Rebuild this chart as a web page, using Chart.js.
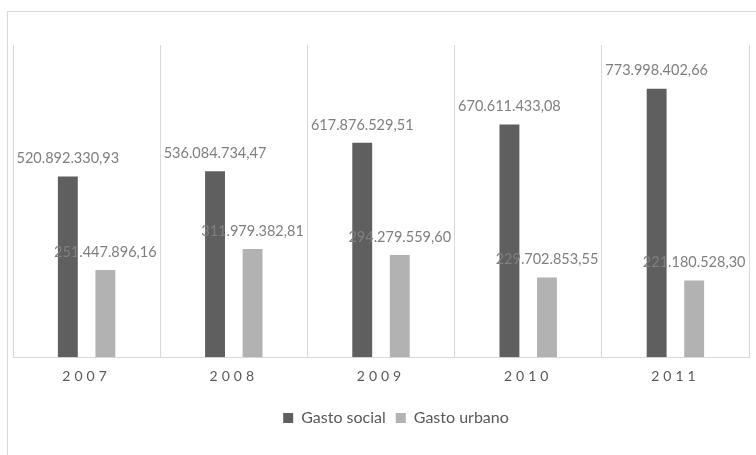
<!DOCTYPE html>
<html>
<head>
<meta charset="utf-8">
<script src="https://cdn.jsdelivr.net/npm/chart.js@4/dist/chart.umd.min.js"></script>
<style>
  html, body { margin: 0; padding: 0; width: 756px; height: 455px; overflow: hidden; background: #fff; }
  #wrap { position: absolute; left: 7px; top: 11px; width: 776px; height: 470px; border: 1px solid #d9d9d9; background: #fff; }
</style>
</head>
<body>
<div id="wrap"><canvas id="chartGasto"></canvas></div>
<script>
var years = ['2007', '2008', '2009', '2010', '2011'];
var gastoSocial = [520892330.93, 536084734.47, 617876529.51, 670611433.08, 773998402.66];
var gastoUrbano = [251447896.16, 311979382.81, 294279559.60, 229702853.55, 221180528.30];

var fontFamily = "Lato, 'Open Sans', sans-serif";

// 1234567.89 -> "1.234.567,89"
function formatEs(v) {
  var parts = v.toFixed(2).split('.');
  var ent = parts[0].replace(/\B(?=(\d{3})+(?!\d))/g, '.');
  return ent + ',' + parts[1];
}

// values written above each bar
var valueLabels = {
  id: 'valueLabels',
  afterDatasetsDraw: function(chart) {
    var ctx = chart.ctx;
    ctx.save();
    ctx.font = '14.5px ' + fontFamily;
    ctx.fillStyle = '#7f7f7f';
    ctx.textAlign = 'center';
    ctx.textBaseline = 'middle';
    chart.data.datasets.forEach(function(ds, i) {
      chart.getDatasetMeta(i).data.forEach(function(bar, j) {
        ctx.fillText(formatEs(ds.data[j]), bar.x, bar.y - 18);
      });
    });
    ctx.restore();
  }
};

// spaced-out year labels on the x axis
var spacedTicks = {
  id: 'spacedTicks',
  afterLayout: function(chart) {
    var sc = chart.scales.x;
    if (sc._spaced) return;
    var orig = sc.drawLabels;
    sc.drawLabels = function(area) {
      var ctx = this.ctx;
      ctx.save();
      ctx.letterSpacing = '4px';
      orig.call(this, area);
      ctx.restore();
    };
    sc._spaced = true;
  }
};

var ctx = document.getElementById('chartGasto').getContext('2d');
var myChart = new Chart(ctx, {
  type: 'bar',
  data: {
    labels: years,
    datasets: [{
      label: 'Gasto social',
      data: gastoSocial,
      backgroundColor: '#5f5f5f',
      categoryPercentage: 0.51,
      barPercentage: 0.53
    }, {
      label: 'Gasto urbano',
      data: gastoUrbano,
      backgroundColor: '#b2b2b2',
      categoryPercentage: 0.51,
      barPercentage: 0.53
    }]
  },
  options: {
    responsive: true,
    maintainAspectRatio: false,
    animation: false,
    layout: { padding: { left: 5, right: 5, top: 33, bottom: 46 } },
    plugins: {
      tooltip: { enabled: false },
      legend: {
        position: 'bottom',
        labels: {
          boxWidth: 10,
          boxHeight: 10,
          padding: 10,
          color: '#595959',
          font: { family: fontFamily, size: 16 }
        }
      }
    },
    scales: {
      x: {
        grid: { color: '#d9d9d9', drawTicks: false, offset: true },
        border: { color: '#d9d9d9' },
        ticks: {
          color: '#595959',
          padding: 11,
          font: { family: fontFamily, size: 14 }
        },
        afterFit: function(scale) { scale.height += 4; }
      },
      y: {
        position: 'right',
        min: 0,
        max: 900000000,
        grid: { display: false },
        border: { display: false },
        ticks: { display: false },
        afterFit: function(scale) { scale.width = 30; }
      }
    }
  },
  plugins: [valueLabels, spacedTicks]
});
</script>
</body>
</html>
